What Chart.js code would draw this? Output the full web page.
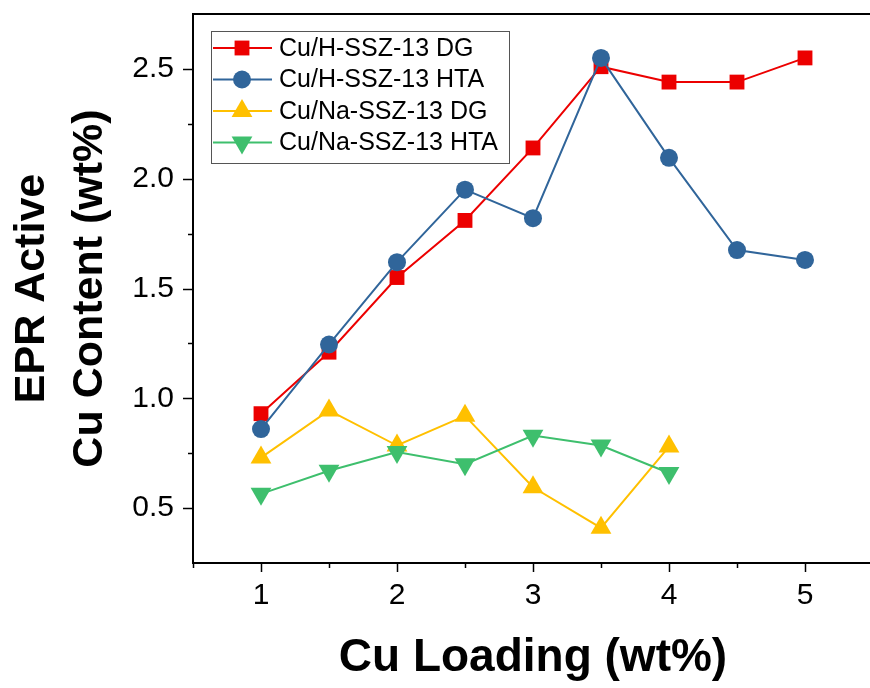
<!DOCTYPE html>
<html>
<head>
<meta charset="utf-8">
<script src="https://cdn.jsdelivr.net/npm/chart.js@4"></script>
<style>
  html, body { margin: 0; padding: 0; background: #fff; overflow: hidden; }
  #wrap { position: relative; width: 885px; height: 688px; }
</style>
</head>
<body>
<div id="wrap"><canvas id="eprChart" width="885" height="688"></canvas></div>
<script>
// Cu loading (wt%) for each sample series
const hLoading = [1, 1.5, 2, 2.5, 3, 3.5, 4, 4.5, 5];
const naLoading = [1, 1.5, 2, 2.5, 3, 3.5, 4];

// EPR active Cu content (wt%)
const hDG = [0.93, 1.21, 1.55, 1.81, 2.14, 2.51, 2.44, 2.44, 2.55];
const hHTA = [0.86, 1.245, 1.62, 1.95, 1.82, 2.55, 2.095, 1.675, 1.63];
const naDG = [0.73, 0.945, 0.785, 0.92, 0.595, 0.41, 0.78];
const naHTA = [0.565, 0.67, 0.755, 0.70, 0.83, 0.785, 0.66];

const seriesLabels = ['Cu/H-SSZ-13 DG', 'Cu/H-SSZ-13 HTA', 'Cu/Na-SSZ-13 DG', 'Cu/Na-SSZ-13 HTA'];
const xTickLabels = ['1', '2', '3', '4', '5'];
const yTickLabels = ['0.5', '1.0', '1.5', '2.0', '2.5'];

const RED = '#ec0000';
const BLUE = '#30659a';
const YELLOW = '#ffc000';
const GREEN = '#3ebf6d';
const FONT = '"Liberation Sans", Arial, sans-serif';

const pts = (xs, ys) => xs.map((x, i) => ({ x, y: ys[i] }));

function series(label, xs, ys, color, style, radius, rotation, order) {
    return {
        label,
        data: pts(xs, ys),
        borderColor: color,
        backgroundColor: color,
        borderWidth: 2,
        pointStyle: style,
        pointRadius: radius,
        pointHoverRadius: radius,
        pointRotation: rotation,
        pointBorderWidth: 0,
        pointBackgroundColor: color,
        tension: 0,
        clip: false,
        order,
    };
}

// outward tick marks (long major, short minor) + top frame line
const frameTicks = {
    id: 'frameTicks',
    afterDraw(chart) {
        const { ctx, chartArea, scales } = chart;
        ctx.save();
        ctx.strokeStyle = '#000';
        ctx.lineWidth = 2;
        ctx.beginPath();
        ctx.moveTo(chartArea.left - 1, chartArea.top);
        ctx.lineTo(chartArea.right, chartArea.top);
        ctx.stroke();

        ctx.lineWidth = 1.5;
        scales.y.ticks.forEach((t) => {
            const v = t.value;
            if (v <= scales.y.min || v >= scales.y.max) return;
            const major = Math.abs(v * 2 - Math.round(v * 2)) < 1e-6;
            const len = major ? 10 : 5;
            const y = Math.round(scales.y.getPixelForValue(v)) + 0.5;
            ctx.beginPath();
            ctx.moveTo(chartArea.left, y);
            ctx.lineTo(chartArea.left - len, y);
            ctx.stroke();
        });
        scales.x.ticks.forEach((t) => {
            const v = t.value;
            if (v >= scales.x.max) return;
            const major = Math.abs(v - Math.round(v)) < 1e-6;
            const len = major ? 9 : 5;
            const x = Math.round(scales.x.getPixelForValue(v)) + 0.5;
            ctx.beginPath();
            ctx.moveTo(x, chartArea.bottom);
            ctx.lineTo(x, chartArea.bottom + len);
            ctx.stroke();
        });
        ctx.restore();
    },
};

// boxed legend inside the plot, top-left
const boxLegend = {
    id: 'boxLegend',
    afterDraw(chart) {
        const { ctx, chartArea } = chart;
        const left = chartArea.left + 18;
        const top = chartArea.top + 17;
        const w = 298;
        const h = 132;
        ctx.save();
        ctx.fillStyle = '#fff';
        ctx.fillRect(left, top, w, h);
        ctx.strokeStyle = '#555';
        ctx.lineWidth = 1;
        ctx.strokeRect(left + 0.5, top + 0.5, w, h);
        ctx.font = '25px ' + FONT;
        ctx.textBaseline = 'middle';
        chart.data.datasets.forEach((ds, i) => {
            const y = top + 17 + i * 31.5;
            ctx.strokeStyle = ds.borderColor;
            ctx.lineWidth = 2;
            ctx.beginPath();
            ctx.moveTo(left + 2, y);
            ctx.lineTo(left + 61, y);
            ctx.stroke();
            ctx.fillStyle = ds.borderColor;
            Chart.helpers.drawPoint(ctx, {
                pointStyle: ds.pointStyle,
                radius: ds.pointRadius,
                rotation: ds.pointRotation,
                borderWidth: 0,
            }, left + 31, y);
            ctx.fillStyle = '#000';
            ctx.fillText(ds.label, left + 68, y + 1);
        });
        ctx.restore();
    },
};

const ctx = document.getElementById('eprChart').getContext('2d');

new Chart(ctx, {
    type: 'line',
    data: {
        datasets: [
            series(seriesLabels[0], hLoading, hDG, RED, 'rect', 10.5, 0, 4),
            series(seriesLabels[1], hLoading, hHTA, BLUE, 'circle', 9, 0, 3),
            series(seriesLabels[2], naLoading, naDG, YELLOW, 'triangle', 12, 0, 2),
            series(seriesLabels[3], naLoading, naHTA, GREEN, 'triangle', 12, 180, 1),
        ],
    },
    options: {
        responsive: false,
        animation: false,
        layout: {
            padding: { top: 14, right: 0, left: 0, bottom: 0 },
        },
        plugins: {
            legend: { display: false },
            tooltip: { enabled: false },
        },
        scales: {
            x: {
                type: 'linear',
                min: 0.5,
                max: 5.5,
                afterFit(scale) {
                    scale.height = 125;
                    scale.paddingLeft = 0;
                    scale.paddingRight = 0;
                },
                border: { display: true, color: '#000', width: 2 },
                grid: { display: false, drawTicks: false },
                ticks: {
                    stepSize: 0.5,
                    autoSkip: false,
                    maxRotation: 0,
                    padding: 15,
                    color: '#000',
                    font: { family: FONT, size: 30 },
                    callback(v) {
                        const k = xTickLabels.indexOf(String(v));
                        return k >= 0 ? xTickLabels[k] : '';
                    },
                },
                title: {
                    display: true,
                    text: 'Cu Loading (wt%)',
                    color: '#000',
                    font: { family: FONT, size: 46, weight: 'bold' },
                    padding: { top: 0, bottom: 2 },
                },
            },
            y: {
                min: 0.25,
                max: 2.75,
                afterFit(scale) {
                    scale.width = 193;
                    scale.paddingTop = 0;
                    scale.paddingBottom = 0;
                },
                border: { display: true, color: '#000', width: 2 },
                grid: { display: false, drawTicks: false },
                ticks: {
                    stepSize: 0.25,
                    autoSkip: false,
                    padding: 19,
                    color: '#000',
                    font: { family: FONT, size: 30 },
                    callback(v) {
                        const k = yTickLabels.indexOf(Number(v).toFixed(1));
                        const major = Math.abs(v * 2 - Math.round(v * 2)) < 1e-6;
                        return major && k >= 0 ? yTickLabels[k] : '';
                    },
                },
                title: {
                    display: true,
                    text: ['EPR Active', 'Cu Content (wt%)'],
                    color: '#000',
                    font: { family: FONT, size: 43, weight: 'bold', lineHeight: 1.33 },
                    padding: { top: 4, bottom: 0 },
                },
            },
        },
    },
    plugins: [frameTicks, boxLegend],
});
</script>
</body>
</html>
